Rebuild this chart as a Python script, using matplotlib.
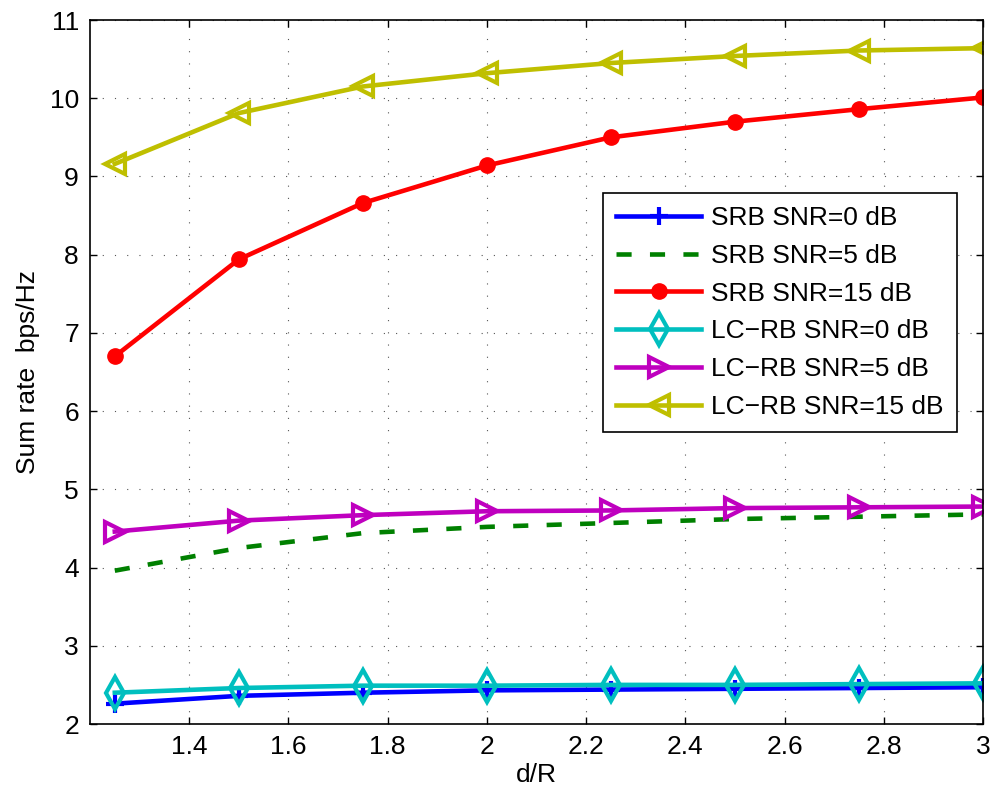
import matplotlib
matplotlib.use("Agg")
import matplotlib.pyplot as plt

plt.rcParams['font.family'] = ['Liberation Sans', 'DejaVu Sans']

# Normalised distance d/R
d_over_r = [1.25, 1.5, 1.75, 2.0, 2.25, 2.5, 2.75, 3.0]

# Sum rate (bps/Hz)
srb_0db = [2.26, 2.36, 2.40, 2.43, 2.44, 2.45, 2.46, 2.47]
srb_5db = [3.96, 4.25, 4.44, 4.52, 4.57, 4.62, 4.65, 4.68]
srb_15db = [6.70, 7.94, 8.66, 9.14, 9.50, 9.70, 9.86, 10.01]
lcrb_0db = [2.40, 2.46, 2.49, 2.49, 2.50, 2.50, 2.51, 2.52]
lcrb_5db = [4.46, 4.60, 4.67, 4.72, 4.73, 4.76, 4.77, 4.78]
lcrb_15db = [9.16, 9.81, 10.15, 10.32, 10.45, 10.54, 10.61, 10.64]

labels = ['SRB SNR=0 dB', 'SRB SNR=5 dB', 'SRB SNR=15 dB',
          'LC\u2212RB SNR=0 dB', 'LC\u2212RB SNR=5 dB', 'LC\u2212RB SNR=15 dB']

x_ticks = [1.4, 1.6, 1.8, 2.0, 2.2, 2.4, 2.6, 2.8, 3.0]
x_tick_labels = ['1.4', '1.6', '1.8', '2', '2.2', '2.4', '2.6', '2.8', '3']
y_ticks = [2, 3, 4, 5, 6, 7, 8, 9, 10, 11]

fs = 19

fig = plt.figure(figsize=(9.98, 7.98), dpi=100)
ax = fig.add_axes([90 / 998, 1 - 724 / 798, (983 - 90) / 998, (724 - 20) / 798])

lw = 3.3
ax.plot(d_over_r, srb_0db, color=(0, 0, 1), lw=lw, marker='+', ms=13, mew=3,
        label=labels[0])
ax.plot(d_over_r, srb_5db, color=(0, 0.5, 0), lw=lw, dashes=(3.3, 4.0),
        label=labels[1])
ax.plot(d_over_r, srb_15db, color=(1, 0, 0), lw=lw, marker='o', ms=11,
        mfc=(1, 0, 0), mec=(1, 0, 0), label=labels[2])
ax.plot(d_over_r, lcrb_0db, color=(0, 0.75, 0.75), lw=lw, marker='d', ms=16,
        mew=3, mfc='none', label=labels[3])
ax.plot(d_over_r, lcrb_5db, color=(0.75, 0, 0.75), lw=lw, marker='>', ms=15,
        mew=3, mfc='none', label=labels[4])
ax.plot(d_over_r, lcrb_15db, color=(0.75, 0.75, 0), lw=lw, marker='<', ms=15,
        mew=3, mfc='none', label=labels[5])

ax.set_xlim(1.2, 3.0)
ax.set_ylim(2, 11)
ax.set_xticks(x_ticks)
ax.set_xticklabels(x_tick_labels)
ax.set_yticks(y_ticks)

ax.tick_params(direction='in', top=True, right=True, length=5, width=1,
               labelsize=fs, pad=8, colors='black')
for sp in ax.spines.values():
    sp.set_linewidth(1.2)
    sp.set_color('black')

ax.grid(True, color='#555555', lw=0.8, ls=(0, (1, 10)))
ax.set_axisbelow(True)

ax.set_xlabel('d/R', fontsize=fs, labelpad=3)
ax.set_ylabel('Sum rate  bps/Hz', fontsize=fs, labelpad=7)

leg = ax.legend(loc='upper right', bbox_to_anchor=(957 / 998, 1 - 193 / 798),
                bbox_transform=fig.transFigure, borderaxespad=0,
                fontsize=fs, handlelength=3.2, handletextpad=0.4,
                labelspacing=0.52, borderpad=0.5, fancybox=False,
                framealpha=1, edgecolor='black')
leg.get_frame().set_linewidth(1.2)

fig.savefig('out.png', dpi=100, facecolor='white')
